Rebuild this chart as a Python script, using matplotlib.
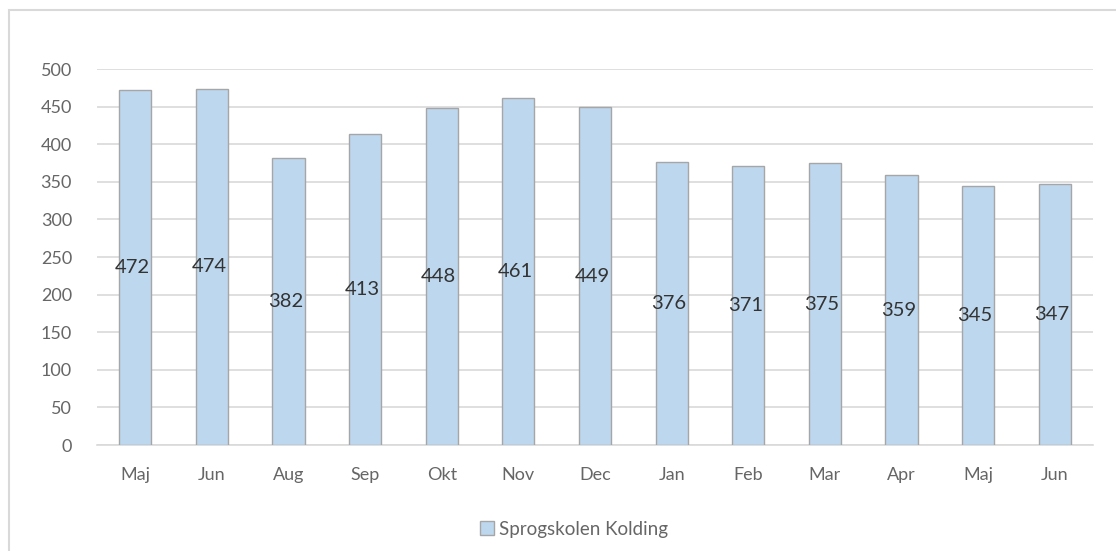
import matplotlib
matplotlib.use("Agg")
import matplotlib.pyplot as plt
from matplotlib.patches import Rectangle

months = ['Maj', 'Jun', 'Aug', 'Sep', 'Okt', 'Nov', 'Dec', 'Jan', 'Feb', 'Mar', 'Apr', 'Maj', 'Jun']
values = [472, 474, 382, 413, 448, 461, 449, 376, 371, 375, 359, 345, 347]
series_name = 'Sprogskolen Kolding'

plt.rcParams['font.family'] = ['Lato', 'DejaVu Sans']

fig = plt.figure(figsize=(11.16, 5.51), dpi=100)
# light frame around the chart area (right/bottom edge run past the picture)
fig.patches.append(Rectangle((9 / 1116, -0.1), 1.2, 1 - 10 / 551 + 0.1,
                             transform=fig.transFigure, fill=False,
                             edgecolor='#d9d9d9', linewidth=1.5))

ax = fig.add_axes([97 / 1116, 1 - 445 / 551, (1093 - 97) / 1116, (445 - 69) / 551])
x = list(range(len(months)))
bars = ax.bar(x, values, width=0.42, color='#bdd7ee', edgecolor='#a6a6a6',
              linewidth=1, label=series_name, zorder=3)

# value labels sit in the middle of each bar
for xi, v in zip(x, values):
    ax.text(xi - 0.04, v / 2, str(v), ha='center', va='center', fontsize=14.5,
            color='#333333', zorder=4)

ax.set_xlim(-0.5, len(months) - 0.5)
ax.set_ylim(0, 500)
ax.set_yticks(range(0, 501, 50))
ax.set_xticks(x)
ax.set_xticklabels(months)
ax.yaxis.grid(True, color='#d9d9d9', linewidth=1.2, zorder=0)
ax.tick_params(axis='both', length=0, labelsize=13, labelcolor='#666666')
ax.tick_params(axis='x', pad=16)
ax.tick_params(axis='y', pad=18)
for s in ['top', 'right', 'left']:
    ax.spines[s].set_visible(False)
ax.spines['bottom'].set_color('#d9d9d9')
ax.spines['bottom'].set_linewidth(1.2)

leg = fig.legend(handles=[bars], labels=[series_name], loc='center left',
                 bbox_to_anchor=(480 / 1116, 1 - 529 / 551), frameon=False,
                 fontsize=13.5, handlelength=0.75, handleheight=0.75,
                 handletextpad=0.25, borderpad=0, borderaxespad=0)
for t in leg.get_texts():
    t.set_color('#666666')

fig.savefig('out.png', dpi=100, facecolor='white')
